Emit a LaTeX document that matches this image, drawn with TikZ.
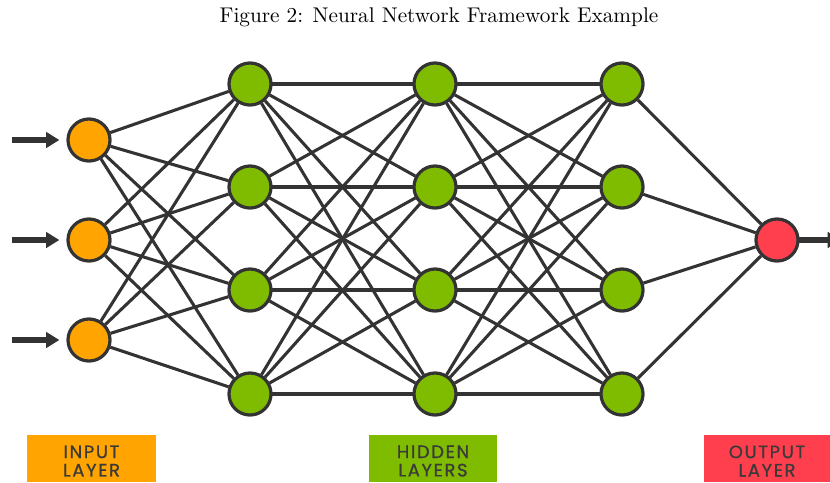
\documentclass[tikz,border=0pt]{standalone}
\usepackage{fontspec}
\newfontfamily\layerfont[LetterSpace=9, FakeBold=0.8]{Poppins}
\usetikzlibrary{positioning, arrows.meta}
\definecolor{nodeline}{HTML}{333333}
\definecolor{inorange}{HTML}{FFA400}
\definecolor{hidgreen}{HTML}{7FBC00}
\definecolor{outred}{HTML}{FF3F4E}
\definecolor{labeltext}{HTML}{3A3A3A}

\begin{document}
\begin{tikzpicture}[x=0.0172cm, y=-0.0172cm,
    neuron/.style={circle, draw=nodeline, line width=1.5pt, minimum size=0.72cm, inner sep=0pt},
    link/.style={draw=nodeline, line width=1.5pt},
    feed/.style={draw=nodeline, line width=2.6pt, -{Triangle[length=6.5pt, width=7.5pt]}},
    layerlabel/.style={align=center, text=labeltext, font=\layerfont\fontsize{8.8}{9}\selectfont}]
    \useasboundingbox (0,0) rectangle (830,482);
    % Title
    \node (title) at (439,17) {\fontsize{10.4}{12}\selectfont Figure 2: Neural Network Framework Example};
    % Input layer
    \foreach \i/\y in {1/140, 2/240, 3/340}
        \node[neuron, fill=inorange] (in\i) at (89,\y) {};
    % Hidden layers
    \foreach \l/\x in {1/250, 2/435, 3/622}
        \foreach \j/\y in {1/84, 2/187, 3/290, 4/394}
            \node[neuron, fill=hidgreen] (h\l\j) at (\x,\y) {};
    % Output layer
    \node[neuron, fill=outred] (out) at (777,240) {};
    % Connections
    \foreach \i in {1,2,3}
        \foreach \j in {1,...,4}
            \path[link] (in\i) -- (h1\j);
    \foreach \j in {1,...,4}
        \foreach \k in {1,...,4} {
            \path[link] (h1\j) -- (h2\k);
            \path[link] (h2\j) -- (h3\k);
        }
    \foreach \j in {1,...,4}
        \path[link] (h3\j) -- (out);
    % Input and output arrows
    \foreach \i/\y in {1/140, 2/240, 3/340} {
        \coordinate (src\i) at (12,\y);
        \path[feed] (src\i) -- ([xshift=-3.5pt]in\i.west);
    }
    \coordinate (sink) at (841,240);
    \path[feed] (out) -- (sink);
    % Redraw neurons on top of the links
    \foreach \i/\y in {1/140, 2/240, 3/340}
        \node[neuron, fill=inorange] at (89,\y) {};
    \foreach \l/\x in {1/250, 2/435, 3/622}
        \foreach \j/\y in {1/84, 2/187, 3/290, 4/394}
            \node[neuron, fill=hidgreen] at (\x,\y) {};
    \node[neuron, fill=outred] at (777,240) {};
    % Layer labels
    \fill[inorange] (27,435) rectangle (156,482);
    \fill[hidgreen] (369,435) rectangle (497,482);
    \fill[outred] (704,435) rectangle (830,482);
    \node[layerlabel] (inlabel) at (91.5,461) {INPUT\\LAYER};
    \node[layerlabel] (hidlabel) at (433,461) {HIDDEN\\LAYERS};
    \node[layerlabel] (outlabel) at (767,461) {OUTPUT\\LAYER};
\end{tikzpicture}
\end{document}
